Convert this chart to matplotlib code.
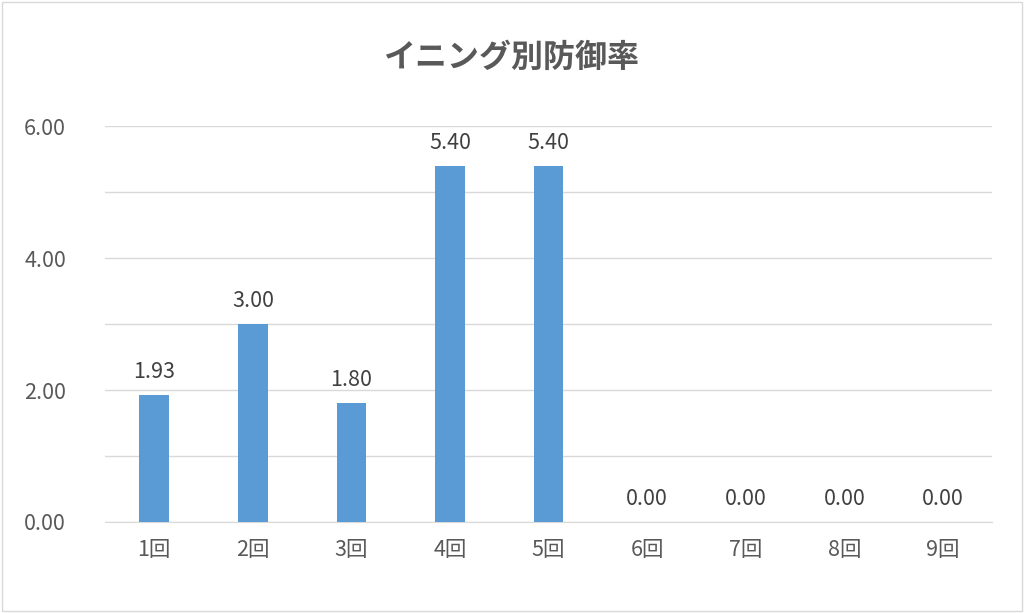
import matplotlib
matplotlib.use("Agg")
import matplotlib.pyplot as plt
from matplotlib.patches import Rectangle

categories = ["1回", "2回", "3回", "4回", "5回", "6回", "7回", "8回", "9回"]
era = [1.93, 3.00, 1.80, 5.40, 5.40, 0.00, 0.00, 0.00, 0.00]
title = "イニング別防御率"

plt.rcParams["font.family"] = ["Noto Sans CJK JP"]
fig = plt.figure(figsize=(10.24, 6.13), dpi=100)
fig.patches.append(Rectangle((0.002, 0.003), 0.996, 0.994, transform=fig.transFigure,
                             fill=False, edgecolor="#d9d9d9", linewidth=1))
ax = fig.add_axes([0.1025, 0.1485, 0.8665, 0.6455])
x = range(len(categories))
ax.bar(x, era, width=0.3, color="#5b9bd5", zorder=3)
for xi, v in zip(x, era):
    ax.text(xi, v + 0.18, f"{v:.2f}", ha="center", va="bottom", fontsize=15.5, color="#404040")
ax.set_xlim(-0.5, 8.5)
ax.set_ylim(0, 6)
ax.set_yticks([0, 2, 4, 6])
ax.set_yticklabels([f"{t:.2f}" for t in [0, 2, 4, 6]])
ax.set_yticks([1, 3, 5], minor=True)
ax.grid(axis="y", which="both", color="#d9d9d9", linewidth=1, zorder=0)
ax.set_xticks(list(x))
ax.set_xticklabels(categories)
ax.tick_params(axis="both", which="both", length=0, labelsize=15.5, labelcolor="#595959")
ax.tick_params(axis="x", pad=12)
ax.tick_params(axis="y", pad=28)
for s in ["top", "right", "left"]:
    ax.spines[s].set_visible(False)
ax.spines["bottom"].set_color("#d9d9d9")
fig.text(0.5, 0.905, title, ha="center", va="center", fontsize=23, fontweight="bold", color="#595959")
fig.savefig("out.png", dpi=100)
